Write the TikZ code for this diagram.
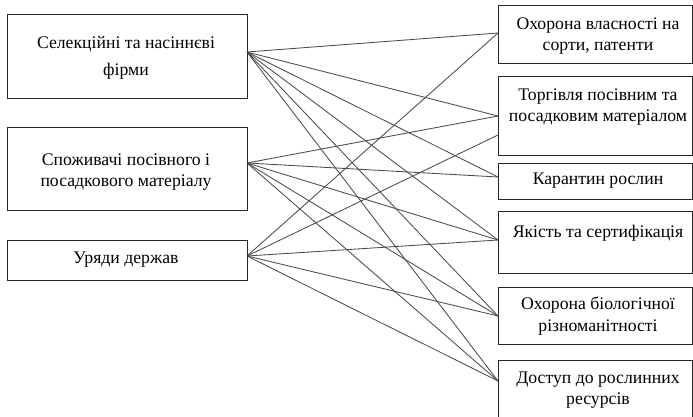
\documentclass[tikz,border=0pt]{standalone}
\usepackage{fontspec}
\setmainfont{Liberation Serif}
\begin{document}
\begin{tikzpicture}[x=1pt,y=-1pt,
  box/.style={draw=black!85,line width=0.9pt,rectangle,inner sep=0pt,anchor=north west},
  txt/.style={align=center,inner sep=0pt,font=\fontsize{17.7}{21.5}\selectfont},
  link/.style={draw=black!70,line width=0.85pt}]
\useasboundingbox[fill=white] (0,0) rectangle (693,417);

% left column: actors
\node[box,minimum width=240pt,minimum height=84pt] (b1) at (7,14) {};
\node[box,minimum width=240pt,minimum height=83pt] (b2) at (7,127) {};
\node[box,minimum width=240pt,minimum height=40pt] (b3) at (7,240) {};
\node[txt] (t1) at (126,58) {Селекційні та насіннєві\\[5pt]фірми};
\node[txt] (t2) at (126,172) {Споживачі посівного і\\посадкового матеріалу};
\node[txt] (t3) at (126,260) {Уряди держав};

% right column: areas of regulation
\node[box,minimum width=194pt,minimum height=58pt] (r1) at (498,5) {};
\node[box,minimum width=194pt,minimum height=79pt] (r2) at (498,76) {};
\node[box,minimum width=194pt,minimum height=36pt] (r3) at (498,163) {};
\node[box,minimum width=194pt,minimum height=62pt] (r4) at (498,211) {};
\node[box,minimum width=194pt,minimum height=57pt] (r5) at (498,287) {};
\node[box,minimum width=194pt,minimum height=56.5pt] (r6) at (498,360) {};
\node[txt] (s1) at (598,36) {Охорона власності на\\сорти, патенти};
\node[txt] (s2) at (598,107) {Торгівля посівним та\\посадковим матеріалом};
\node[txt] (s3) at (598,181) {Карантин рослин};
\node[txt] (s4) at (598,233) {Якість та сертифікація};
\node[txt] (s5) at (598,316) {Охорона біологічної\\різноманітності};
\node[txt] (s6) at (598,390) {Доступ до рослинних\\ресурсів};

% connector ends on the box sides
\coordinate (l1) at (247,52);
\coordinate (l2) at (247,163);
\coordinate (l3) at (247,256);
\coordinate (p1) at (498,33);
\coordinate (p2a) at (498,116);
\coordinate (p2b) at (498,135);
\coordinate (p3) at (498,177);
\coordinate (p4) at (498,240);
\coordinate (p5) at (498,316);
\coordinate (p6) at (498,381);

% links
\foreach \e in {p1,p2a,p3,p4,p5,p6} \draw[link] (l1) -- (\e);
\foreach \e in {p2a,p3,p4,p5,p6} \draw[link] (l2) -- (\e);
\foreach \e in {p1,p2b,p4,p5,p6} \draw[link] (l3) -- (\e);
\end{tikzpicture}
\end{document}
